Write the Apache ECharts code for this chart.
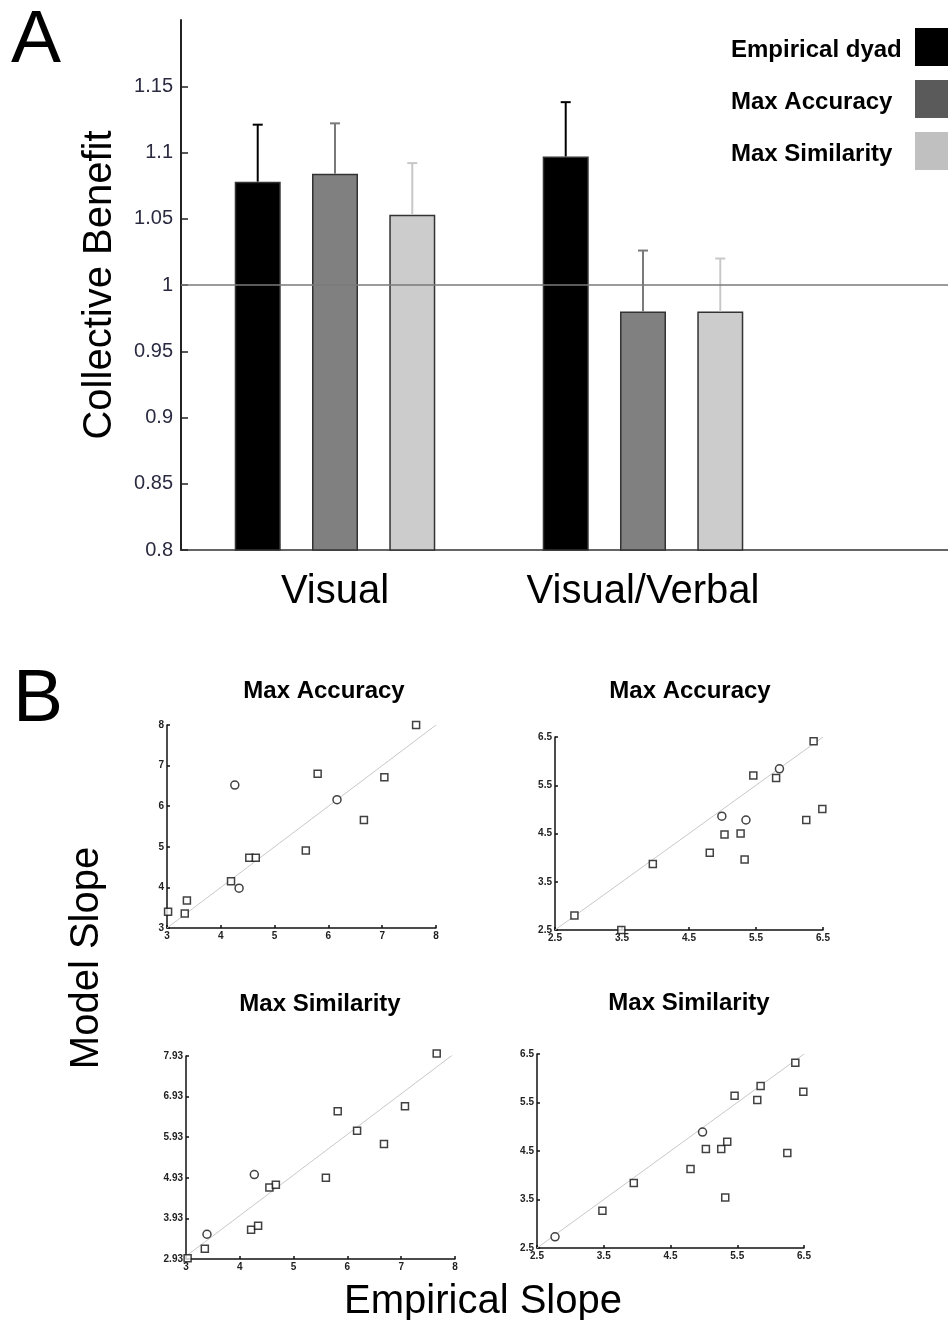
<!DOCTYPE html>
<html><head><meta charset="utf-8">
<script src="https://cdn.jsdelivr.net/npm/echarts@6/dist/echarts.min.js"></script>
<style>html,body{margin:0;padding:0;background:#fff}#c{width:948px;height:1320px}</style>
</head><body><div id="c"></div>
<script>
// ---------- Panel A data ----------
const conditions = ['Visual', 'Visual/Verbal', ''];
const seriesNames = ['Empirical dyad', 'Max Accuracy', 'Max Similarity'];
const meanEmpirical = [1.078, 1.097];
const meanMaxAccuracy = [1.084, 0.980];
const meanMaxSimilarity = [1.053, 0.980];
const upperEmpirical = [1.121, 1.138];
const upperMaxAccuracy = [1.122, 1.026];
const upperMaxSimilarity = [1.092, 1.020];
const benefitRange = [0.8, 1.2];
const benefitStep = 0.05;
const referenceLevel = 1;

// ---------- Panel B data (empirical slope, model slope) ----------
const accLeftSquares = [[3.02,3.40],[3.37,3.68],[3.33,3.36],[4.19,4.15],[4.53,4.73],[4.65,4.73],[5.58,4.91],[5.80,6.80],[6.66,5.66],[7.04,6.71],[7.63,8.00]];
const accLeftCircles = [[4.26,6.52],[4.34,3.98],[6.16,6.16]];
const accRightSquares = [[2.79,2.80],[3.49,2.50],[3.96,3.87],[4.81,4.10],[5.03,4.48],[5.27,4.50],[5.33,3.96],[5.46,5.70],[5.80,5.65],[6.25,4.78],[6.36,6.41],[6.49,5.01]];
const accRightCircles = [[4.99,4.86],[5.35,4.78],[5.85,5.84]];
const simLeftSquares = [[3.03,2.95],[3.35,3.18],[4.21,3.65],[4.34,3.75],[4.55,4.69],[4.67,4.76],[5.60,4.93],[5.82,6.57],[6.18,6.09],[6.68,5.76],[7.07,6.69],[7.66,7.99]];
const simLeftCircles = [[3.39,3.54],[4.27,5.01]];
const simRightSquares = [[3.48,3.27],[3.95,3.84],[4.80,4.13],[5.03,4.54],[5.26,4.54],[5.35,4.69],[5.32,3.54],[5.46,5.64],[5.80,5.55],[5.85,5.84],[6.25,4.46],[6.37,6.32],[6.49,5.72]];
const simRightCircles = [[2.77,2.73],[4.98,4.89]];
const leftRange = [3, 8];
const rightRange = [2.5, 6.5];
const simLeftYRange = [2.93, 7.93];
const leftDiagonal = [[3,3],[8,8]];
const rightDiagonal = [[2.5,2.5],[6.5,6.5]];

// ---------- styling ----------
const FONT = 'Liberation Sans';
const barColors = ['#000000', '#808080', '#cccccc'];
const errColors = ['#000000', '#7a7a7a', '#c8c8c8'];
const legendColors = ['#000000', '#5a5a5a', '#c0c0c0'];
const BAR_W = 46, GAP_RATIO = 0.68;

const chart = echarts.init(document.getElementById('c'), null, {renderer: 'canvas'});

const means = [meanEmpirical, meanMaxAccuracy, meanMaxSimilarity];
const uppers = [upperEmpirical, upperMaxAccuracy, upperMaxSimilarity];

function errRender(k) {
  return function (params, api) {
    const off = (k - 1) * BAR_W * (1 + GAP_RATIO);
    const p0 = api.coord([api.value(0), api.value(1)]);
    const p1 = api.coord([api.value(0), api.value(2)]);
    const x = p0[0] + off;
    const st = {stroke: errColors[k], lineWidth: 2};
    return {type: 'group', children: [
      {type: 'line', shape: {x1: x, y1: p0[1], x2: x, y2: p1[1]}, style: st},
      {type: 'line', shape: {x1: x - 5, y1: p1[1], x2: x + 5, y2: p1[1]}, style: st}
    ]};
  };
}

const series = [];
seriesNames.forEach((n, k) => {
  series.push({
    name: n, type: 'bar', xAxisIndex: 0, yAxisIndex: 0,
    data: means[k], barWidth: BAR_W, barGap: (GAP_RATIO * 100) + '%',
    itemStyle: {color: barColors[k], borderColor: '#333', borderWidth: 1.5},
    z: 2
  });
});
seriesNames.forEach((n, k) => {
  const s = {
    name: n + ' error', type: 'custom', xAxisIndex: 0, yAxisIndex: 0,
    renderItem: errRender(k), z: 3,
    encode: {x: 0, y: [1, 2]},
    data: means[k].map((m, i) => [i, m, uppers[k][i]])
  };
  if (k === 0) {
    s.markLine = {silent: true, symbol: 'none', z: 10, label: {show: false},
      lineStyle: {color: '#7a7a7a', width: 1.5, type: 'solid'},
      data: [{yAxis: referenceLevel}]};
  }
  series.push(s);
});

function scatterPair(idx, squares, circles, diag) {
  series.push({type: 'line', xAxisIndex: idx, yAxisIndex: idx, data: diag, showSymbol: false,
    lineStyle: {color: '#c8c8c8', width: 1}, silent: true, z: 1});
  series.push({type: 'scatter', xAxisIndex: idx, yAxisIndex: idx, data: squares, symbol: 'rect', symbolSize: 7, clip: false,
    itemStyle: {color: '#fff', borderColor: '#111', borderWidth: 1.5}, z: 3});
  series.push({type: 'scatter', xAxisIndex: idx, yAxisIndex: idx, data: circles, symbol: 'circle', symbolSize: 8, clip: false,
    itemStyle: {color: '#fff', borderColor: '#111', borderWidth: 1.5}, z: 3});
}
scatterPair(1, accLeftSquares, accLeftCircles, leftDiagonal);
scatterPair(2, accRightSquares, accRightCircles, rightDiagonal);
scatterPair(3, simLeftSquares, simLeftCircles, leftDiagonal);
scatterPair(4, simRightSquares, simRightCircles, rightDiagonal);

function sAxis(idx, range, dec) {
  return {type: 'value', gridIndex: idx, min: range[0], max: range[1], interval: 1,
    axisLine: {show: true, onZero: false, lineStyle: {color: '#111', width: 1.5}},
    axisTick: {show: true, inside: true, length: 3, lineStyle: {color: '#111', width: 1.5}},
    splitLine: {show: false},
    axisLabel: {fontSize: 10, fontWeight: 'bold', color: '#222', margin: 3, fontFamily: FONT,
      formatter: v => v.toFixed(dec)}};
}

const titleStyle = {fontSize: 24, fontWeight: 'bold', color: '#000', fontFamily: FONT};
const letterStyle = {fontSize: 75, fontWeight: 'normal', color: '#000', fontFamily: FONT};

const option = {
  animation: false,
  backgroundColor: '#fff',
  textStyle: {fontFamily: FONT},
  title: [
    {text: 'A', left: 11, top: 4, padding: 0, textStyle: letterStyle},
    {text: 'B', left: 13, top: 663, padding: 0, textStyle: letterStyle},
    {text: 'Max Accuracy', left: 324, top: 679, padding: 0, textAlign: 'center', textStyle: titleStyle},
    {text: 'Max Accuracy', left: 690, top: 679, padding: 0, textAlign: 'center', textStyle: titleStyle},
    {text: 'Max Similarity', left: 320, top: 992, padding: 0, textAlign: 'center', textStyle: titleStyle},
    {text: 'Max Similarity', left: 689, top: 991, padding: 0, textAlign: 'center', textStyle: titleStyle}
  ],
  legend: {
    orient: 'vertical', left: 731, top: 28, align: 'right', padding: 0,
    itemWidth: 60, itemHeight: 38, itemGap: 14, icon: 'rect',
    selectedMode: false,
    formatter: '{t|{name}}',
    textStyle: {rich: {t: {width: 179, align: 'left', padding: [6, 0, 0, 0], fontSize: 24, fontWeight: 'bold', color: '#000', fontFamily: FONT}}},
    data: seriesNames.map((n, i) => ({name: n, itemStyle: {color: legendColors[i], borderWidth: 0}}))
  },
  grid: [
    {left: 181, top: 20, width: 924, height: 530, outerBoundsMode: 'none'},
    {left: 167, top: 725, width: 269, height: 203, outerBoundsMode: 'none'},
    {left: 555, top: 737, width: 268, height: 193, outerBoundsMode: 'none'},
    {left: 186, top: 1056, width: 269, height: 203, outerBoundsMode: 'none'},
    {left: 537, top: 1054, width: 267, height: 194, outerBoundsMode: 'none'}
  ],
  xAxis: [
    {type: 'category', gridIndex: 0, data: conditions,
      axisLine: {lineStyle: {color: '#333', width: 1.5}}, axisTick: {show: false},
      axisLabel: {fontSize: 40, color: '#000', margin: 22, interval: 0, fontFamily: FONT}},
    sAxis(1, leftRange, 0), sAxis(2, rightRange, 1), sAxis(3, leftRange, 0), sAxis(4, rightRange, 1)
  ],
  yAxis: [
    {type: 'value', gridIndex: 0, min: benefitRange[0], max: benefitRange[1], interval: benefitStep,
      name: 'Collective Benefit', nameLocation: 'middle', nameGap: 61,
      nameTextStyle: {fontSize: 40, color: '#000', fontFamily: FONT},
      axisLine: {show: true, lineStyle: {color: '#222', width: 2}},
      axisTick: {show: true, inside: true, length: 7, lineStyle: {color: '#222', width: 1.5}},
      splitLine: {show: false},
      axisLabel: {fontSize: 20, color: '#2a2a40', margin: 8, showMaxLabel: false, fontFamily: FONT}},
    sAxis(1, leftRange, 0), sAxis(2, rightRange, 1), sAxis(3, simLeftYRange, 2), sAxis(4, rightRange, 1)
  ],
  graphic: [
    {type: 'text', x: 87, y: 958, rotation: Math.PI / 2,
      style: {text: 'Model Slope', fontSize: 40, fontFamily: FONT, fill: '#000', align: 'center', verticalAlign: 'middle'}},
    {type: 'text', x: 483, y: 1302,
      style: {text: 'Empirical Slope', fontSize: 40, fontFamily: FONT, fill: '#000', align: 'center', verticalAlign: 'middle'}}
  ],
  series: series
};
chart.setOption(option);
</script></body></html>
